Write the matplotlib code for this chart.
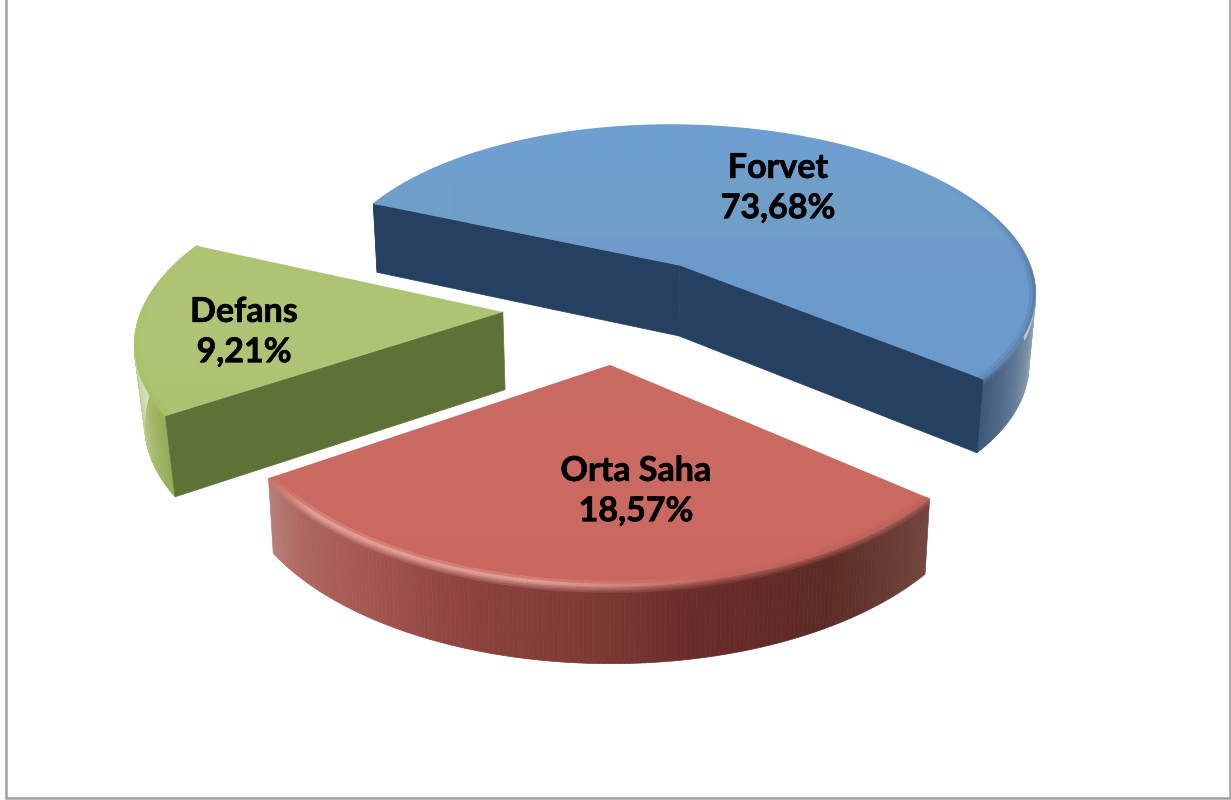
import numpy as np
import matplotlib
matplotlib.use('Agg')
import matplotlib.pyplot as plt
import matplotlib.patheffects as pe
from matplotlib.collections import PolyCollection, LineCollection
from matplotlib.colors import to_rgb
from matplotlib.patches import Polygon

# data
slice_names = ['Forvet', 'Orta Saha', 'Defans']
slice_labels = ['73,68%', '18,57%', '9,21%']
# share of the circle each slice really covers in the picture
slice_shares = [54.45, 29.55, 16.0]
start_angle = 294.0

# camera, pixels
cx, cy = 605, 322
scale_x, scale_y, persp = 368, 177, 0.15
radii = [1.0, 0.985, 0.992]
drops = [72, 71, 78]
converge = [0.016, 0.014, 0.022]

explode = [(0.214, 0.335), (0.013, -0.234), (-0.28, 0.057)]
label_pos = [(778, 188), (636, 491), (244, 332)]

cut_colors = ['#254061', '#8c3f3a', '#5e7137']
top_stops = [
    [(125, '#6e9fd0'), (168, '#6e9fd0'), (180, '#6f9fc8'), (232, '#6f9fc8'),
     (245, '#7098cb'), (280, '#6c9bce'), (460, '#6a9acc')],
    [(365, '#c96a64'), (480, '#cb6a62'), (590, '#ca6860')],
    [(240, '#aec473'), (330, '#afc476'), (420, '#adc26f')],
]
wall_stops = [
    [(90, '#c5cfdb'), (100, '#a9b7c8'), (110, '#7f92aa'), (120, '#5a7290'), (131, '#3a5576')],
    [(129, '#74463f'), (140, '#663a32'), (150, '#5c2a24'), (170, '#6a2c2b'), (180, '#7a3833'),
     (200, '#8e4340'), (215, '#a5574f'), (228, '#ad6760'), (237, '#b8807a')],
    [(236, '#93a856'), (245, '#a9bb70'), (255, '#bccb8c'), (265, '#d4dfb6'), (275, '#e3eacf'), (295, '#e3eacf')],
]
rim_stops = [
    [(0, '#6e9fd0'), (55, '#6e9fd0'), (95, '#55789f'), (131, '#5e86b2'), (200, '#6e9fd0')],
    [(129, '#b9625a'), (165, '#c2655c'), (190, '#e6a79f'), (225, '#eaa9a1'), (237, '#c66e66')],
    [(236, '#a4c263'), (270, '#a9c56a'), (295, '#aec473')],
]


def project(x, y):
    w = 1 + persp * y
    return cx + scale_x * x / w, cy - scale_y * y / w


def drop_point(i, px, py, y, t):
    h = drops[i] / (1 + 0.07 * y)
    return px - converge[i] * t * (px - cx), py + t * h


def stop_colors(stops, values):
    xs = [s[0] for s in stops]
    rgb = np.array([to_rgb(s[1]) for s in stops])
    return np.column_stack([np.interp(values, xs, rgb[:, c]) for c in range(3)])


def draw_slice(ax, i, a0, a1, z):
    ox, oy = explode[i]
    r = radii[i]
    theta = np.linspace(a0, a1, 160)
    rad = np.deg2rad(theta)
    wx = ox + r * np.sin(rad)
    wy = oy + r * np.cos(rad)
    px, py = project(wx, wy)
    tip_x, tip_y = project(ox, oy)

    # outer wall, split in a bevel part and a flat part
    deg = np.mod(theta, 360)
    mid = np.mod(theta[:-1] + np.diff(theta) / 2, 360)
    wall = stop_colors(wall_stops[i], mid)
    rim = stop_colors(rim_stops[i], mid)
    levels = [0, 0.03, 0.06, 0.09, 0.12, 1.0]
    for k in range(len(levels) - 1):
        x0, y0 = drop_point(i, px, py, wy, levels[k])
        x1, y1 = drop_point(i, px, py, wy, levels[k + 1])
        quads = [[(x0[j], y0[j]), (x0[j + 1], y0[j + 1]), (x1[j + 1], y1[j + 1]), (x1[j], y1[j])]
                 for j in range(len(mid))]
        f = min(1.0, (k + 1) / (len(levels) - 2))
        col = rim * (1 - f) + wall * f
        ax.add_collection(PolyCollection(quads, facecolors=col, edgecolors=col, linewidths=0.5, zorder=z))

    # cut faces, only the ones turned to the viewer
    ends = [(px[0], py[0], wy[0], np.sin(np.deg2rad(a0)) < 0),
            (px[-1], py[-1], wy[-1], np.sin(np.deg2rad(a1)) > 0)]
    for ex, ey, ew, visible in ends:
        if not visible:
            continue
        bx, by = drop_point(i, np.array([ex, tip_x]), np.array([ey, tip_y]), np.array([ew, oy]), 1.0)
        ax.add_patch(Polygon([(tip_x, tip_y), (ex, ey), (bx[0], by[0]), (bx[1], by[1])],
                             facecolor=cut_colors[i], edgecolor=cut_colors[i], linewidth=0.5, zorder=z + 0.1))

    # top surface, gradient clipped to the slice outline
    clip = Polygon([(tip_x, tip_y)] + list(zip(px, py)), transform=ax.transData,
                   facecolor='none', edgecolor='none', zorder=z + 0.1)
    ax.add_patch(clip)
    grad = stop_colors(top_stops[i], np.arange(0, 800))[:, None, :]
    im = ax.imshow(grad, extent=(0, 1231, 800, 0), aspect='auto', zorder=z + 0.2, interpolation='bilinear')
    im.set_clip_path(clip)

    # soft rim along the arc
    for rr, lw, alpha in [(r - 0.012, 3.0, 0.35), (r - 0.004, 2.0, 0.8)]:
        rx, ry = project(ox + rr * np.sin(rad), oy + rr * np.cos(rad))
        segs = [[(rx[j], ry[j]), (rx[j + 1], ry[j + 1])] for j in range(len(rx) - 1)]
        ax.add_collection(LineCollection(segs, colors=np.column_stack([rim, np.full(len(rim), alpha)]),
                                         linewidths=lw, zorder=z + 0.3))


fig = plt.figure(figsize=(12.31, 8), dpi=100)
ax = fig.add_axes([0, 0, 1, 1])
ax.set_axis_off()

angles = start_angle + np.cumsum([0] + [s * 3.6 for s in slice_shares])

# back to front: Forvet, Defans, Orta Saha
for z, i in enumerate([0, 2, 1], start=1):
    draw_slice(ax, i, angles[i], angles[i + 1], z)

# frame of the chart area (no line along the top)
ax.plot([6, 6, 1230, 1230], [0, 798, 798, 0], color='#a0a0a0', linewidth=1.8, zorder=20,
        solid_joinstyle='miter')

for name, pct, (tx, ty) in zip(slice_names, slice_labels, label_pos):
    ax.text(tx, ty, name + '\n' + pct, ha='center', va='center', fontsize=24.5,
            fontweight='bold', family='Lato', color='black', linespacing=1.32, zorder=30,
            path_effects=[pe.withStroke(linewidth=0.5, foreground='black')])

ax.set_xlim(0, 1231)
ax.set_ylim(800, 0)
fig.savefig('out.png', dpi=100, facecolor='white')
